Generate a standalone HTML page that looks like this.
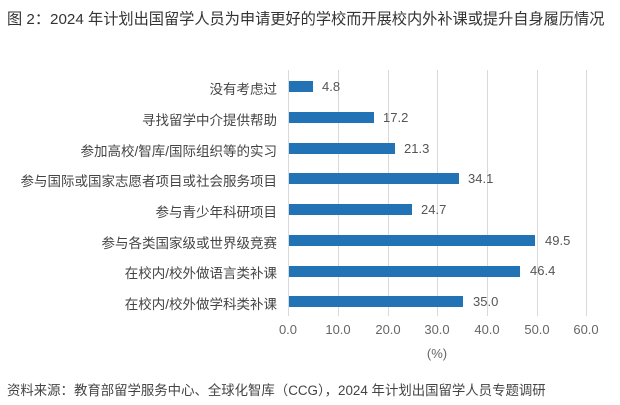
<!DOCTYPE html><html><head><meta charset="utf-8"><style>
body{margin:0;width:620px;height:405px;background:#fff;font-family:"Liberation Sans","Noto Sans CJK SC",sans-serif;color:#444;position:relative;overflow:hidden}
.t{position:absolute;left:7px;top:7px;font-size:15.2px;color:#333;white-space:nowrap}
.g{position:absolute;top:70px;height:246px;width:1px;background:#d9d9d9}
.b{position:absolute;height:11px;background:#2272b6;left:289px}
.l{position:absolute;right:343px;font-size:13.5px;white-space:nowrap;color:#444}
.v{position:absolute;font-size:13px;color:#555}
.x{position:absolute;top:322px;font-size:13px;color:#666;width:40px;text-align:center}
.s{position:absolute;left:7px;top:379px;font-size:13.4px;color:#444;white-space:nowrap}
</style></head><body>
<div class="t">图 2：2024 年计划出国留学人员为申请更好的学校而开展校内外补课或提升自身履历情况</div>
<div class="g" style="left:288px"></div><div class="g" style="left:338px"></div><div class="g" style="left:388px"></div><div class="g" style="left:437px"></div><div class="g" style="left:487px"></div><div class="g" style="left:537px"></div><div class="g" style="left:586px"></div>
<div class="l" style="top:78px">没有考虑过</div><div class="b" style="top:81px;width:24px"></div><div class="v" style="top:79px;left:322px">4.8</div>
<div class="l" style="top:109px">寻找留学中介提供帮助</div><div class="b" style="top:112px;width:85px"></div><div class="v" style="top:110px;left:383px">17.2</div>
<div class="l" style="top:140px">参加高校/智库/国际组织等的实习</div><div class="b" style="top:143px;width:106px"></div><div class="v" style="top:141px;left:404px">21.3</div>
<div class="l" style="top:170px">参与国际或国家志愿者项目或社会服务项目</div><div class="b" style="top:173px;width:170px"></div><div class="v" style="top:171px;left:468px">34.1</div>
<div class="l" style="top:201px">参与青少年科研项目</div><div class="b" style="top:204px;width:123px"></div><div class="v" style="top:202px;left:421px">24.7</div>
<div class="l" style="top:232px">参与各类国家级或世界级竞赛</div><div class="b" style="top:235px;width:246px"></div><div class="v" style="top:233px;left:545px">49.5</div>
<div class="l" style="top:262px">在校内/校外做语言类补课</div><div class="b" style="top:266px;width:231px"></div><div class="v" style="top:263px;left:530px">46.4</div>
<div class="l" style="top:293px">在校内/校外做学科类补课</div><div class="b" style="top:296px;width:174px"></div><div class="v" style="top:294px;left:473px">35.0</div>
<div class="x" style="left:268px">0.0</div><div class="x" style="left:318px">10.0</div><div class="x" style="left:368px">20.0</div><div class="x" style="left:417px">30.0</div><div class="x" style="left:467px">40.0</div><div class="x" style="left:517px">50.0</div><div class="x" style="left:566px">60.0</div>
<div class="x" style="left:417px;top:346px">(%)</div>
<div class="s">资料来源：教育部留学服务中心、全球化智库（CCG），2024 年计划出国留学人员专题调研</div>
</body></html>
